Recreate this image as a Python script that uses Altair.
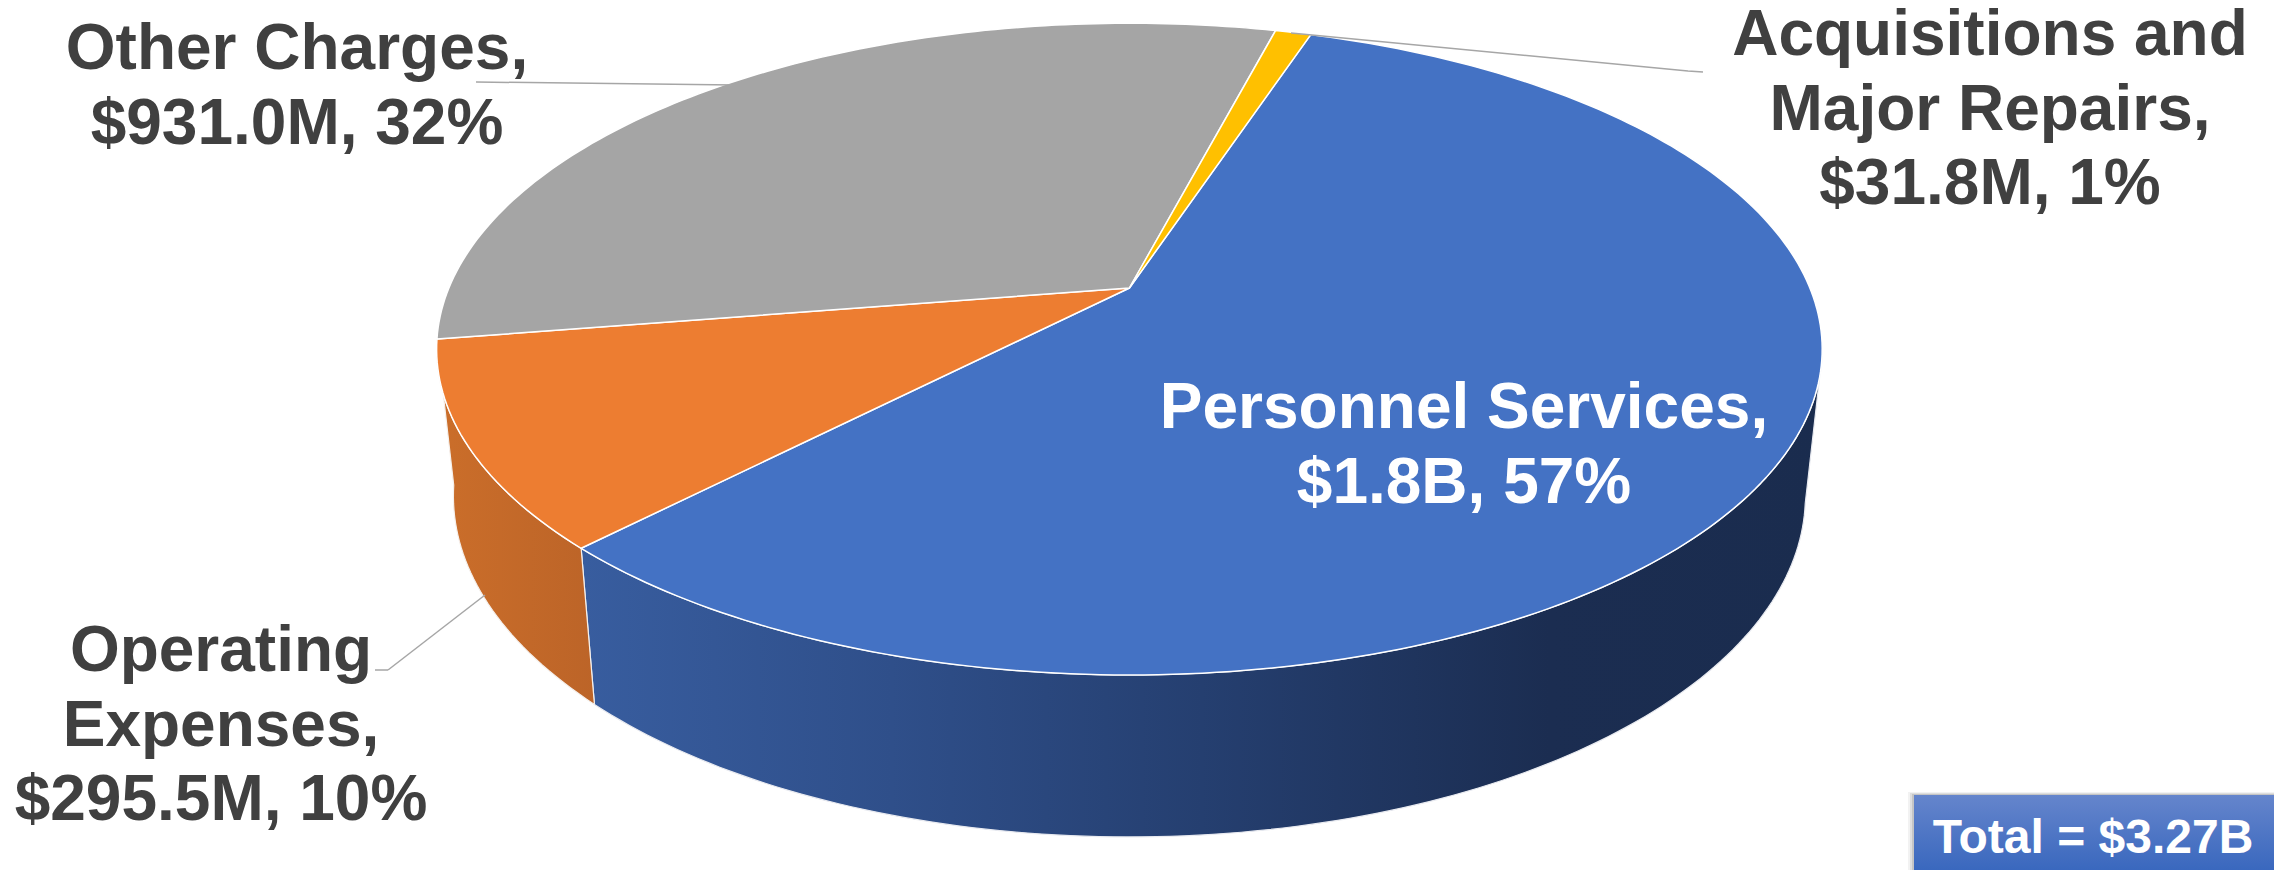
import math
import altair as alt

# Data
categories = ["Personnel Services", "Operating Expenses", "Other Charges", "Acquisitions and Major Repairs"]
shares = [57.2, 10.2, 31.6, 1.0]
amounts = ["$1.8B", "$295.5M", "$931.0M", "$31.8M"]
first_angle = 18.3
top_colors = ["#4472C4", "#ED7D31", "#A5A5A5", "#FFC000"]

label_lines = [
    ["Personnel Services,", "$1.8B, 57%"],
    ["Operating", "Expenses,", "$295.5M, 10%"],
    ["Other Charges,", "$931.0M, 32%"],
    ["Acquisitions and", "Major Repairs,", "$31.8M, 1%"],
]
label_centers = [(1464, 409), (221, 652), (297, 50), (1990, 36)]
label_colors = ["#FFFFFF", "#404040", "#404040", "#404040"]
total_text = "Total = $3.27B"

leaders = [
    [(388, 670), (375, 670)], [(485, 595), (388, 670)],
    [(476, 82), (735, 85)],
    [(1291, 33), (1688, 71), (1703, 72)],
]

# Pie projection (perspective view of a disc)
PERSP = 0.1875
TOP = dict(cx=1129.4, cy=288.0, a=680.5, b=314.4)
BOTTOM = dict(cx=1129.4, cy=432.0, a=664.0, b=329.0)
LINE_STEP = 74.5
ORIGIN = [-8, -8]
SILHOUETTE = 102.0


def project(deg, face):
    t = math.radians(deg)
    sx, sy = math.sin(t), -math.cos(t)
    w = 1 - PERSP * sy
    return [face["cx"] + face["a"] * sx / w, face["cy"] + face["b"] * sy / w]


def sweep(a0, a1):
    n = max(2, int(abs(a1 - a0)))
    return [a0 + (a1 - a0) * i / n for i in range(n + 1)]


def feature(kind, coords):
    return {"type": "Feature", "properties": {}, "geometry": {"type": kind, "coordinates": coords}}


bounds = []
angle = first_angle
for s in shares:
    bounds.append((angle, angle + s * 3.6))
    angle += s * 3.6


def wedge(a0, a1):
    ring = [[TOP["cx"], TOP["cy"]]] + [project(d, TOP) for d in sweep(a0, a1)]
    ring.append(ring[0])
    return feature("Polygon", [ring])


def wall(a0, a1):
    degs = sweep(a0, a1)
    ring = [project(d, TOP) for d in degs] + [project(d, BOTTOM) for d in reversed(degs)]
    ring.append(ring[0])
    return feature("Polygon", [ring])


def box(x0, y0, x1, y1):
    return feature("Polygon", [[[x0, y0], [x1, y0], [x1, y1], [x0, y1], [x0, y0]]])


layers = []


def add_shape(feat, **mark):
    layers.append(alt.Chart(alt.Data(values=[feat])).mark_geoshape(**mark))


blue_wall = alt.Gradient(
    gradient="linear", x1=0, x2=1, y1=0, y2=0,
    stops=[
        alt.GradientStop(offset=0, color="#385D9F"),
        alt.GradientStop(offset=0.25, color="#2F4F8A"),
        alt.GradientStop(offset=0.5, color="#253F70"),
        alt.GradientStop(offset=0.78, color="#1B2D51"),
        alt.GradientStop(offset=1, color="#1A2C4E"),
    ],
)
orange_wall = alt.Gradient(
    gradient="linear", x1=0, x2=1, y1=0, y2=0,
    stops=[alt.GradientStop(offset=0, color="#CB6E2A"), alt.GradientStop(offset=1, color="#BC6428")],
)
total_fill = alt.Gradient(
    gradient="linear", x1=0, x2=0, y1=0, y2=1,
    stops=[alt.GradientStop(offset=0, color="#6585CC"), alt.GradientStop(offset=1, color="#3464BC")],
)

add_shape(wall(SILHOUETTE, bounds[0][1]), fill=blue_wall, stroke="#E8EAF0", strokeWidth=1.2)
add_shape(wall(*bounds[1]), fill=orange_wall, stroke="#F5F0EC", strokeWidth=1.2)

for (a0, a1), col in zip(bounds, top_colors):
    add_shape(wedge(a0, a1), fill=col, stroke="#FFFFFF", strokeWidth=1.5, strokeJoin="round")

for pts in leaders:
    add_shape(feature("LineString", [list(p) for p in pts]), filled=False, stroke="#A6A6A6", strokeWidth=1.5)

rows = []
for lines, (cx, cy), col in zip(label_lines, label_centers, label_colors):
    for i, line in enumerate(lines):
        rows.append({"line": line, "lon": cx, "lat": cy + i * LINE_STEP, "color": col})

layers.append(
    alt.Chart(alt.Data(values=rows))
    .mark_text(font="Liberation Sans", fontWeight="bold", fontSize=64, align="center", baseline="middle")
    .encode(
        longitude="lon:Q",
        latitude="lat:Q",
        text="line:N",
        color=alt.Color("color:N", scale=None),
    )
)

for off, op in [(6, 0.08), (4, 0.12), (2, 0.18)]:
    add_shape(box(1914 - off, 795 - off / 2, 2290, 880), fill="#555555", fillOpacity=op, strokeWidth=0)
add_shape(box(1914, 795, 2290, 880), fill=total_fill, strokeWidth=0)

layers.append(
    alt.Chart(alt.Data(values=[{"t": total_text, "lon": 2093, "lat": 839}]))
    .mark_text(font="Liberation Sans", fontWeight="bold", fontSize=48, align="center", baseline="middle", color="#FFFFFF")
    .encode(longitude="lon:Q", latitude="lat:Q", text="t:N")
)

chart = (
    alt.layer(*layers)
    .project(type="identity", scale=1, translate=ORIGIN)
    .properties(width=2266, height=862, padding=0, autosize=alt.AutoSizeParams(type="none"), background="white")
    .configure_view(stroke=None)
)

chart.save("out.html", embed_options={"renderer": "svg", "actions": False})
